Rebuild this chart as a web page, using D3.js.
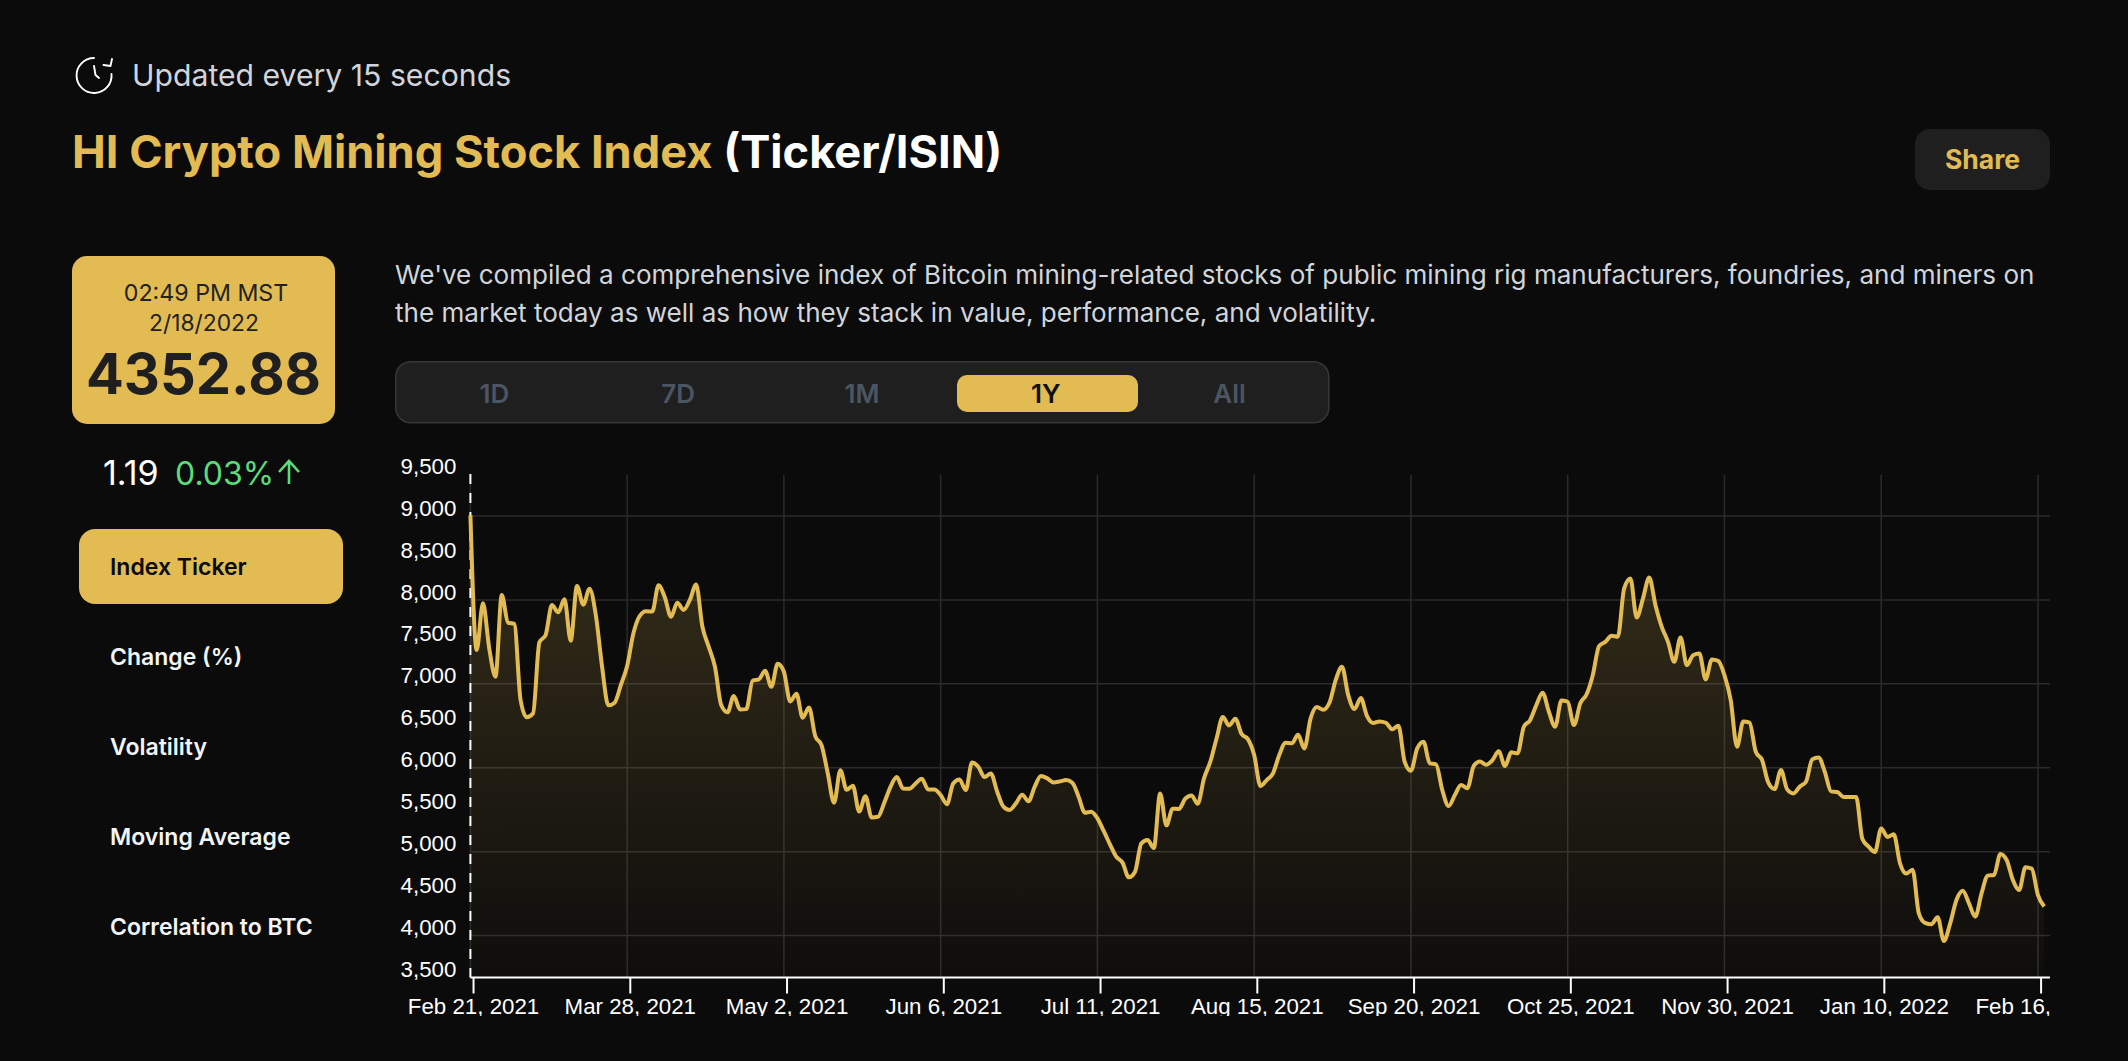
<!DOCTYPE html>
<html><head><meta charset="utf-8">
<script src="https://cdn.jsdelivr.net/npm/d3@7/dist/d3.min.js"></script>
<style>html,body{margin:0;background:#0b0b0b;overflow:hidden}svg{display:block}text{font-family:Inter,sans-serif}</style>
</head><body><svg id="c" width="2128" height="1061"></svg>
<script>
const tickLabels = ["Feb 21, 2021","Mar 28, 2021","May 2, 2021","Jun 6, 2021","Jul 11, 2021","Aug 15, 2021","Sep 20, 2021","Oct 25, 2021","Nov 30, 2021","Jan 10, 2022","Feb 16, 2022"];
const yTicks = [3500,4000,4500,5000,5500,6000,6500,7000,7500,8000,8500,9000,9500];
const yGrid = [4000,5000,6000,7000,8000,9000];
const values = [9010,7403,7959,7423,7085,8058,7729,7713,6807,6600,6648,7494,7582,7939,7852,8007,7514,8166,7943,8134,7820,7204,6743,6775,6986,7212,7602,7808,7864,7860,8174,8031,7800,7967,7880,7999,8182,7681,7443,7204,6747,6660,6855,
6694,6698,7036,7052,7155,6964,7238,7143,6789,6881,6595,6718,6376,6269,5931,5582,5971,5737,5784,5478,5661,5407,5415,5582,5772,5888,5752,5749,5812,5868,5741,5741,5673,5566,5812,5860,5733,6062,6011,5888,5931,5717,
5536,5496,5575,5678,5599,5774,5901,5873,5825,5837,5853,5821,5655,5464,5476,5397,5246,5087,4940,4869,4694,4761,5099,5139,5043,5694,5313,5512,5508,5631,5670,5571,5873,6071,6349,6603,6504,6584,6401,6341,6151,5782,
5853,5933,6151,6298,6290,6393,6230,6588,6723,6691,6774,7044,7203,6865,6699,6830,6615,6532,6552,6536,6457,6500,6071,5964,6230,6310,6052,6040,5734,5543,5674,5794,5754,6020,6075,6036,6091,6195,6020,6183,6171,6488,
6567,6746,6893,6667,6488,6801,6786,6508,6766,6873,7103,7449,7500,7572,7560,8135,8255,7790,8016,8266,7937,7679,7500,7262,7552,7222,7341,7361,7052,7290,7274,7103,6805,6250,6551,6536,6190,6091,5821,5745,5972,5742,
5694,5774,5833,6099,6123,5952,5718,5710,5651,5651,5651,5150,5059,4996,5277,5174,5206,4861,4738,4785,4265,4150,4134,4217,3936,4146,4424,4535,4384,4225,4503,4714,4722,4972,4900,4662,4543,4813,4797,4483,4345];
const navItems = ["Index Ticker","Change (%)","Volatility","Moving Average","Correlation to BTC"];
const ranges = ["1D","7D","1M","1Y","All"];
const paragraph = ["We've compiled a comprehensive index of Bitcoin mining-related stocks of public mining rig manufacturers, foundries, and miners on","the market today as well as how they stack in value, performance, and volatility."];

const GOLD="#e2bb53";
const svg=d3.select("#c");
const T=(x,y,s,size,fill,weight,anchor,g)=>(g||svg).append("text").attr("x",x).attr("y",y).text(s)
  .attr("font-size",size).attr("fill",fill).attr("font-weight",weight||400).attr("text-anchor",anchor||"start");
const R=(x,y,w,h,r,fill)=>svg.append("rect").attr("x",x).attr("y",y).attr("width",w).attr("height",h).attr("rx",r).attr("fill",fill);

// header
const ic=svg.append("g").attr("fill","none").attr("stroke","#fff").attr("stroke-width",1.9).attr("stroke-linecap","round").attr("stroke-linejoin","round");
ic.append("path").attr("d","M94 58 A17.5 17.5 0 1 0 111.5 74");
ic.append("path").attr("d","M112 59 L110.5 66 L103.5 65");
ic.append("path").attr("d","M94 66 L95.5 75 L99 78");
T(132,86,"Updated every 15 seconds",30.2,"#d1d5db");
const title=T(72,168,"HI Crypto Mining Stock Index",45.2,GOLD,700);
title.append("tspan").attr("fill","#fff").text(" (Ticker/ISIN)");
R(1915,129,135,61,15,"#1f1f1f");
T(1982.5,169,"Share",26.5,GOLD,700,"middle");

// price card
R(72,256,263,168,15,GOLD);
T(206,301,"02:49 PM MST",23.2,"#222",400,"middle");
T(204,331,"2/18/2022",22.8,"#222",400,"middle");
T(203.5,394,"4352.88",56,"#1f1f1f",700,"middle");
T(103,485,"1.19",34,"#fff",400);
T(175,485,"0.03%",32,"#5bdc7a",400);
svg.append("path").attr("d","M289 484 V462 M279 472 L289 461 L299 472").attr("fill","none").attr("stroke","#5bdc7a").attr("stroke-width",2.6);

// nav
R(79,529,264,75,16,GOLD);
svg.selectAll("text.nav").data(navItems).join("text").attr("class","nav")
  .attr("x",110).attr("y",(d,i)=>574.5+i*90).text(d=>d).attr("font-size",23).attr("font-weight",600)
  .attr("fill",(d,i)=>i?"#f3f4f6":"#0b0b0b");

// paragraph
svg.selectAll("text.par").data(paragraph).join("text").attr("class","par")
  .attr("x",395).attr("y",(d,i)=>284+i*37.7).text(d=>d).attr("font-size",26.07).attr("fill","#d1d5db");

// segmented control
R(395.75,361.75,933,61,15,"#1f1f1f").attr("stroke","#363636").attr("stroke-width",1.5);
const rangeX=d3.scalePoint().domain(ranges).range([494.5,1229.5]);
R(957,375,181,37,10,GOLD);
svg.selectAll("text.rng").data(ranges).join("text").attr("class","rng")
  .attr("x",d=>rangeX(d)).attr("y",403).attr("text-anchor","middle").text(d=>d).attr("font-size",26).attr("font-weight",600)
  .attr("fill",d=>d==="1Y"?"#111":"#4b5563");

// chart
const L=470.4,Rr=2050.5,TOP=474,BOT=977.5;
const idx=d3.range(values.length);
const x=d3.scaleBand().domain(idx).range([L,Rr]);
const y=d3.scaleLinear().domain([3500,9500]).range([BOT,TOP]);
const defs=svg.append("defs");
defs.append("clipPath").attr("id","cl").append("rect").attr("x",380).attr("y",440).attr("width",1670).attr("height",576);
const grad=defs.append("linearGradient").attr("id","gr").attr("gradientUnits","userSpaceOnUse").attr("x1",0).attr("x2",0).attr("y1",y(9010)).attr("y2",BOT);
grad.append("stop").attr("offset",0).attr("stop-color",GOLD).attr("stop-opacity",0.2);
grad.append("stop").attr("offset",1).attr("stop-color",GOLD).attr("stop-opacity",0.015);
const ch=svg.append("g").attr("clip-path","url(#cl)");
const tickIdx=tickLabels.map((d,i)=>i*25);
ch.selectAll("line.gx").data(tickIdx).join("line").attr("class","gx")
  .attr("x1",d=>x(d)).attr("x2",d=>x(d)).attr("y1",TOP+1).attr("y2",BOT)
  .attr("stroke","#2b2b2b").attr("stroke-width",1.5);
ch.selectAll("line.gy").data(yGrid).join("line").attr("class","gy")
  .attr("x1",L).attr("x2",Rr).attr("y1",d=>y(d)).attr("y2",d=>y(d))
  .attr("stroke","#2b2b2b").attr("stroke-width",1.5);
const area=d3.area().x((d,i)=>x(i)).y0(BOT).y1(d=>y(d)).curve(d3.curveMonotoneX);
const line=d3.line().x((d,i)=>x(i)).y(d=>y(d)).curve(d3.curveMonotoneX);
ch.append("path").attr("d",area(values)).attr("fill","url(#gr)");
ch.append("line").attr("x1",L).attr("x2",L).attr("y1",TOP).attr("y2",BOT).attr("stroke","#fff").attr("stroke-width",2).attr("stroke-dasharray","10 9");
ch.append("path").attr("d",line(values)).attr("fill","none").attr("stroke",GOLD).attr("stroke-width",4).attr("stroke-linejoin","round");
const ax=ch.append("g").attr("transform",`translate(0,${BOT})`).call(
  d3.axisBottom(x).tickValues(tickIdx).tickFormat((d,i)=>tickLabels[i]).tickSize(16).tickSizeOuter(0).tickPadding(5).offset(0));
ax.selectAll("path,line").attr("stroke","#fff").attr("stroke-width",2);
ax.selectAll("text").attr("fill","#fff").attr("font-size",22.3).style("font-family","'Liberation Sans',Arial,sans-serif");
const ay=ch.append("g").attr("transform",`translate(${L},0)`).call(
  d3.axisLeft(y).tickValues(yTicks).tickFormat(d3.format(",")).tickSize(0).tickPadding(14).offset(0));
ay.select("path").remove();
ay.selectAll("text").attr("fill","#fff").attr("font-size",22.3).attr("y",-7.5).style("font-family","'Liberation Sans',Arial,sans-serif");
</script></body></html>
